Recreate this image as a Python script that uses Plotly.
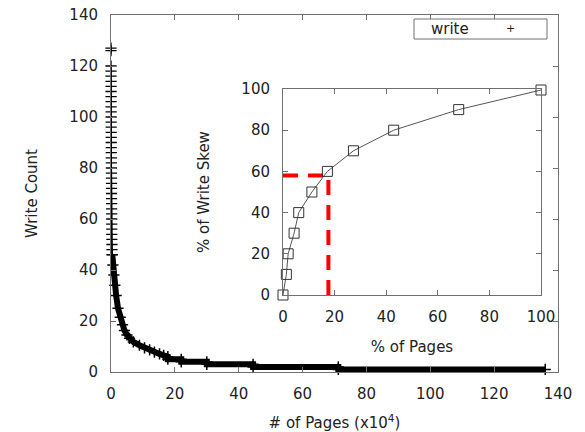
import plotly.graph_objects as go

# ---------------- data ----------------
# Head of the sorted write-count curve: pages with very high counts (x in 10^4 pages)
head_rank = [0.00, 0.00, 0.01, 0.01, 0.01, 0.02, 0.02, 0.02, 0.03, 0.03,
             0.03, 0.04, 0.04, 0.05, 0.05, 0.06, 0.06, 0.07, 0.08, 0.09,
             0.10, 0.11, 0.12, 0.13, 0.14, 0.15, 0.16, 0.17, 0.18, 0.19,
             0.20, 0.21, 0.22, 0.23, 0.24, 0.25, 0.27, 0.29, 0.31, 0.33]
head_count = [127, 126, 120, 118, 116, 114, 112, 110, 108, 106,
              104, 102, 100, 98, 96, 94, 92, 90, 88, 86,
              84, 82, 80, 78, 76, 74, 72, 70, 68, 66,
              64, 62, 60, 58, 56, 54, 52, 50, 48, 46]

# Body / tail of the curve
body_rank = [0.4, 0.6, 0.9, 1.2, 1.6, 2.2, 2.9, 3.6, 4.2, 5.0, 5.8, 7.0, 8.9,
             10.5, 12.1, 13.6, 15.2, 16.5, 17.8, 17.8, 22.0, 22.0, 30.0,
             30.0, 44.5, 44.5, 71.2, 71.2, 136.0]
body_count = [46, 42, 38, 34, 30, 25, 21.5, 18.5, 16.3, 14.5, 13.2, 11.8, 10.5,
              9.5, 8.7, 7.8, 7.1, 6.5, 6.0, 5, 5, 4, 4,
              3, 3, 2, 2, 1, 1]

# Inset: cumulative write skew
pct_pages = [0, 1.3, 2.0, 4.3, 6.1, 11.2, 17.2, 27.3, 42.9, 68.1, 100]
pct_skew = [0, 10, 20, 30, 40, 50, 60, 70, 80, 90, 99.5]

# Highlight (red dashed guide)
guide_x = [0, 17.6, 17.6]
guide_y = [58, 58, 0]

main_ticks = [0, 20, 40, 60, 80, 100, 120, 140]
inset_ticks = [0, 20, 40, 60, 80, 100]

# ---------------- figure ----------------
FONT = "DejaVu Sans"
TXT = "#222222"
AX = "#707070"

fig = go.Figure()

fig.add_trace(go.Scatter(
    x=body_rank, y=body_count, mode="lines+markers", name="write",
    line=dict(color="black", width=6),
    marker=dict(symbol="cross-thin", size=8, line=dict(color="black", width=1.5)),
    cliponaxis=False, showlegend=False, xaxis="x", yaxis="y"))

fig.add_trace(go.Scatter(
    x=head_rank, y=head_count, mode="markers", name="write",
    marker=dict(symbol="cross-thin", size=8, line=dict(color="black", width=1.3)),
    cliponaxis=False, showlegend=False, xaxis="x", yaxis="y"))

fig.add_trace(go.Scatter(
    x=guide_x, y=guide_y, mode="lines",
    line=dict(color="red", width=4, dash="15px,10px"),
    cliponaxis=False, showlegend=False, xaxis="x2", yaxis="y2"))

fig.add_trace(go.Scatter(
    x=pct_pages, y=pct_skew, mode="lines+markers",
    line=dict(color="#555555", width=1),
    marker=dict(symbol="square-open", size=10, color="#333333",
                line=dict(color="#333333", width=1)),
    cliponaxis=False, showlegend=False, xaxis="x2", yaxis="y2"))

axis_common = dict(
    ticks="inside", ticklen=5, tickcolor=AX, tickwidth=1,
    showline=True, linecolor=AX, linewidth=1, mirror="ticks",
    showgrid=False, zeroline=False, automargin=False,
    tickfont=dict(family=FONT, size=15, color=TXT),
)

L, R, T, B = 111, 27, 15, 60
W, H = 585, 432
pw, ph = W - L - R, H - T - B


def px_x(p):
    return (p - L) / pw


def px_y(p):
    return (H - B - p) / ph


fig.update_layout(
    width=W, height=H,
    margin=dict(l=L, r=R, t=T, b=B, autoexpand=False),
    paper_bgcolor="white", plot_bgcolor="white",
    font=dict(family=FONT, size=15, color=TXT),
    xaxis=dict(range=[0, 140], tickvals=main_ticks, ticklabelstandoff=8,
               title=dict(text="# of Pages (x10<sup>4</sup>)", standoff=17,
                          font=dict(family=FONT, size=15, color=TXT)),
               **axis_common),
    yaxis=dict(range=[0, 140], tickvals=main_ticks, ticklabelstandoff=9,
               title=dict(text="Write Count", standoff=28,
                          font=dict(family=FONT, size=15, color=TXT)),
               **axis_common),
    xaxis2=dict(domain=[px_x(283), px_x(541)], anchor="y2", range=[0, 100],
                tickvals=inset_ticks, ticklabelstandoff=8,
                title=dict(text="% of Pages", standoff=16,
                           font=dict(family=FONT, size=15, color=TXT)),
                **axis_common),
    yaxis2=dict(domain=[px_y(295), px_y(89)], anchor="x2", range=[0, 100],
                tickvals=inset_ticks, ticklabelstandoff=9,
                title=dict(text="% of Write Skew", standoff=28,
                           font=dict(family=FONT, size=15, color=TXT)),
                **axis_common),
    showlegend=False,
)

# gnuplot-style key box: "write  +"
fig.add_shape(type="rect", xref="paper", yref="paper",
              x0=px_x(414), x1=px_x(547), y0=px_y(39), y1=px_y(19),
              line=dict(color=AX, width=1), fillcolor="white")
fig.add_annotation(xref="paper", yref="paper", x=px_x(450), y=px_y(29),
                   xanchor="center", yanchor="middle",
                   text="write", showarrow=False,
                   font=dict(family=FONT, size=15, color=TXT))
fig.add_annotation(xref="paper", yref="paper", x=px_x(510), y=px_y(29),
                   xanchor="center", yanchor="middle",
                   text="+", showarrow=False,
                   font=dict(family=FONT, size=11, color=TXT))

fig.write_html("out.html")
